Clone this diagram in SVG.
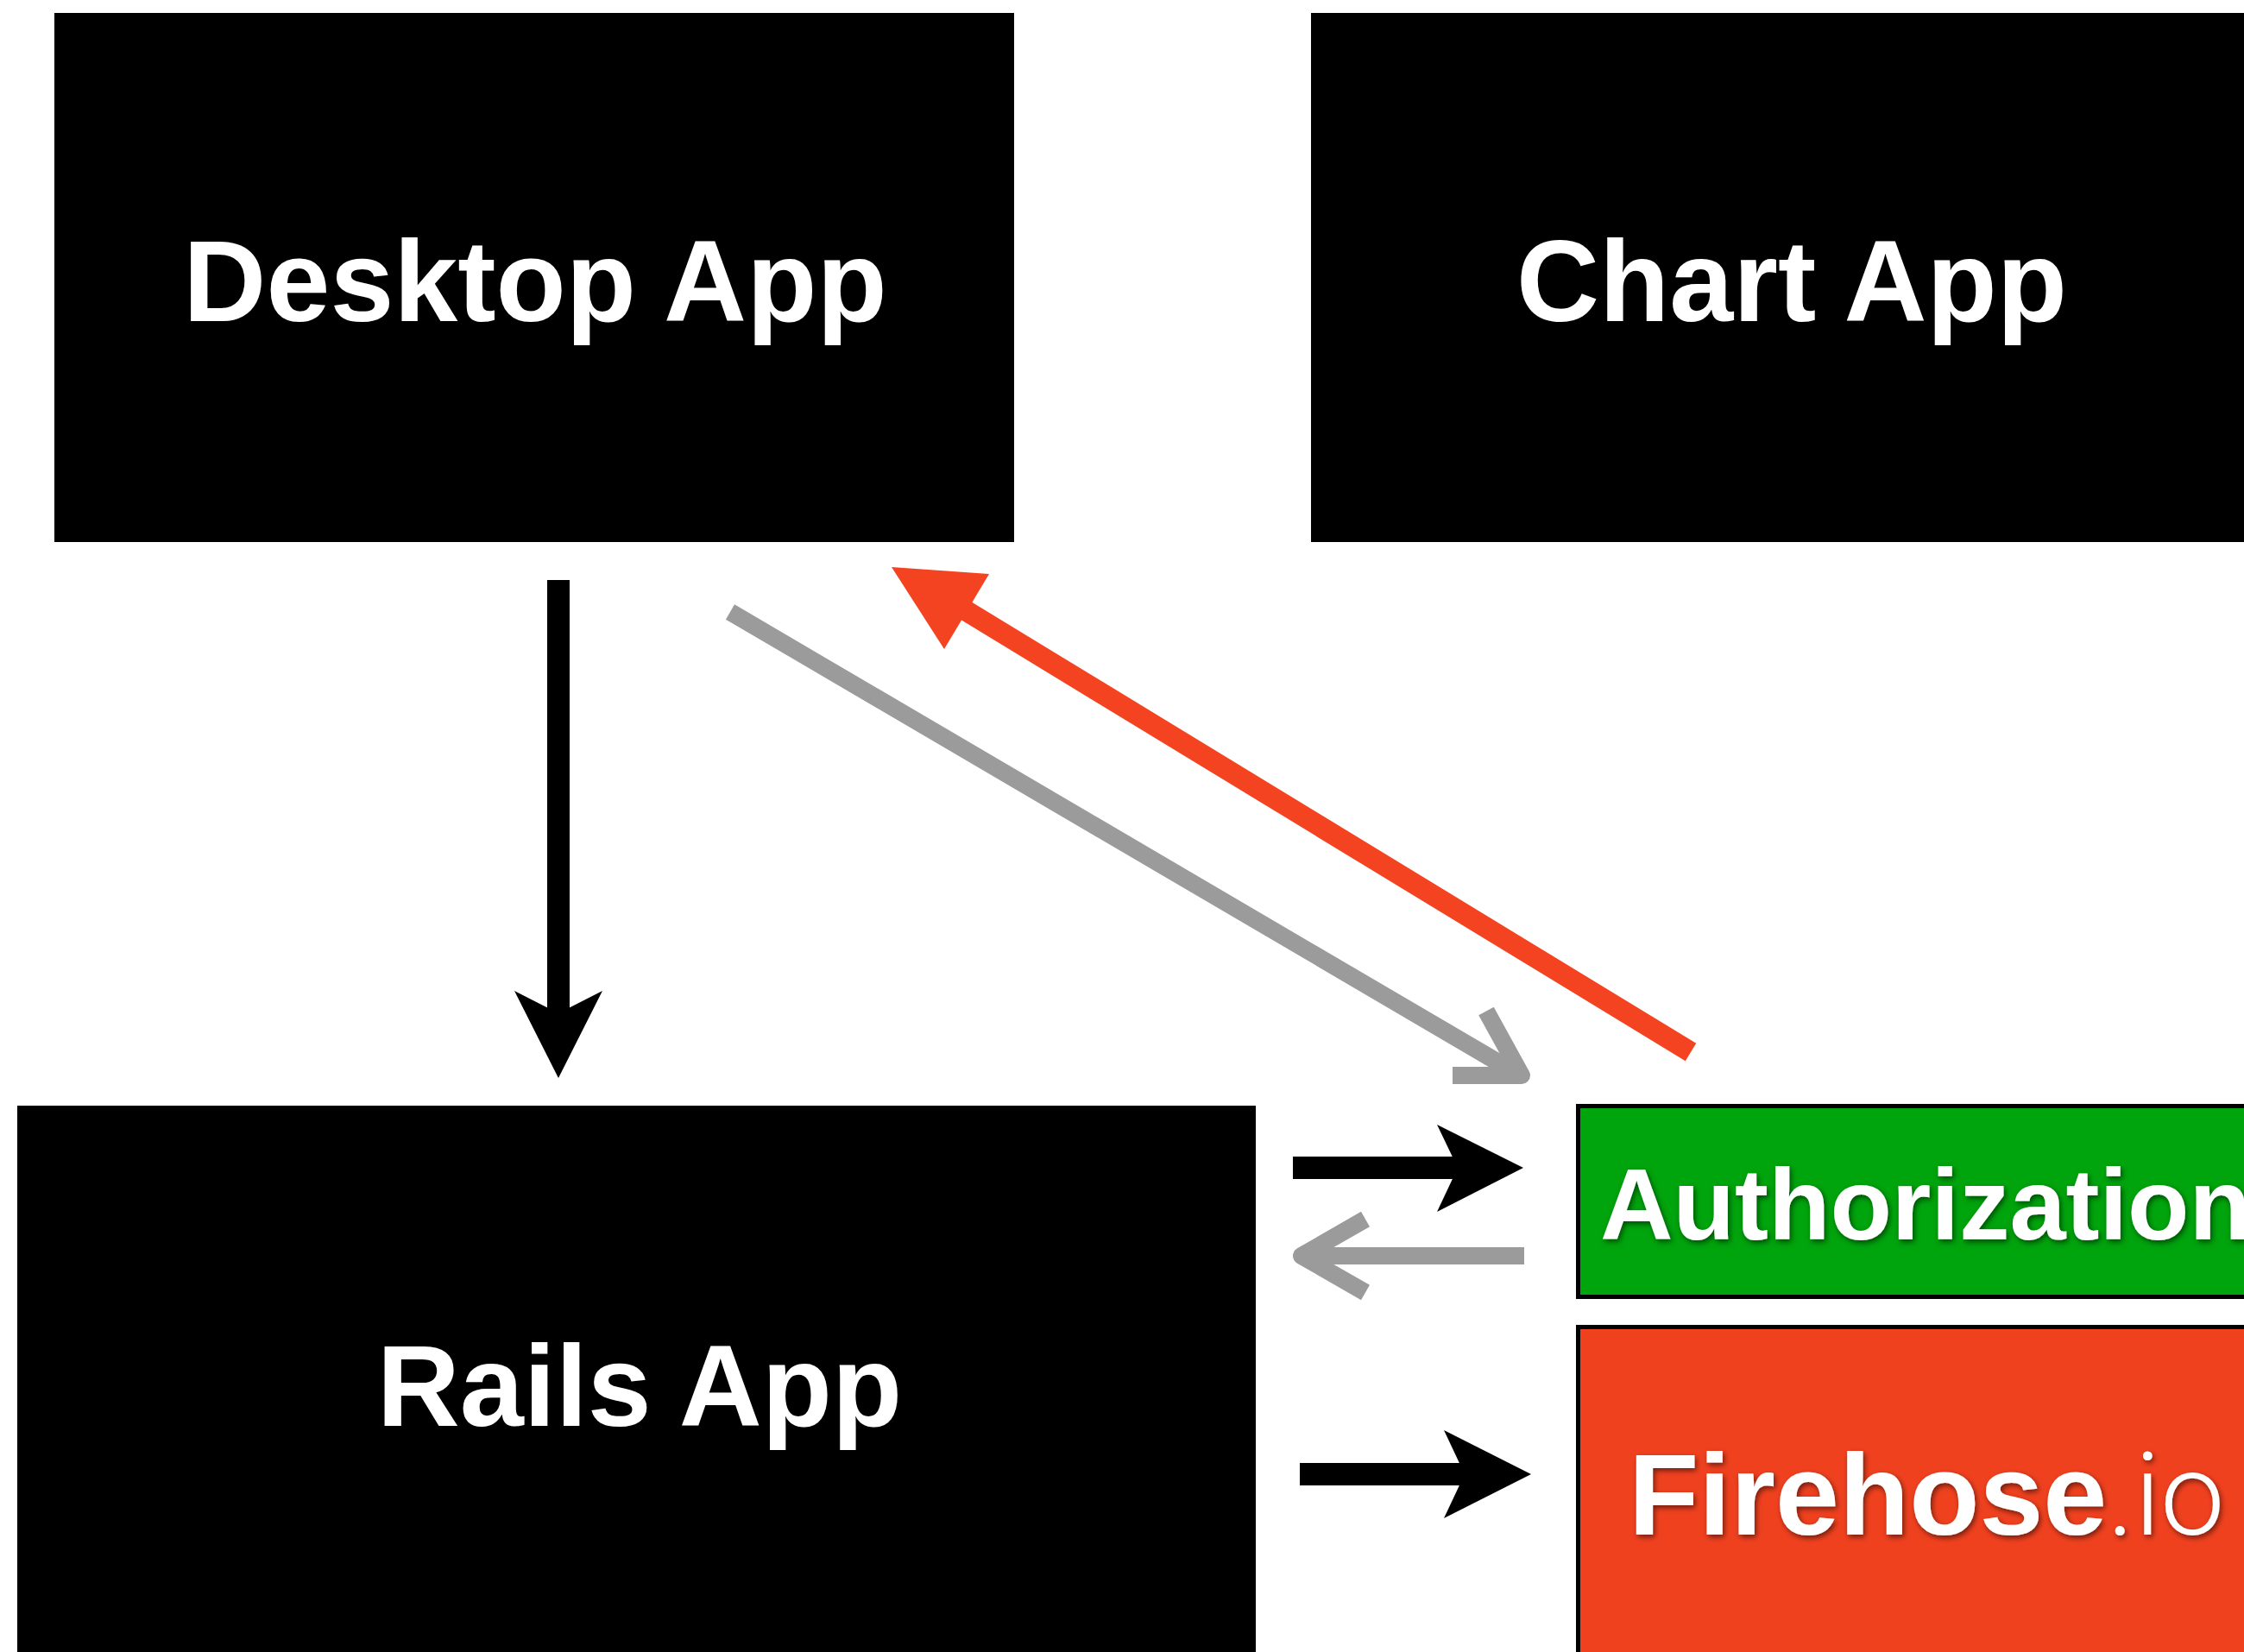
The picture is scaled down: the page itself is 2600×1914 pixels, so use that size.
<svg xmlns="http://www.w3.org/2000/svg" width="2600" height="1914" viewBox="0 0 2600 1914">
<style>
.box{fill:#000}
.lbl{font-family:"Liberation Sans",Arial,Helvetica,sans-serif;font-weight:bold;font-size:133px;fill:#fff}
.blk{stroke:#000;stroke-width:26;fill:none}
.gry{stroke:#9b9b9b;stroke-width:20;fill:none;stroke-linejoin:round}
</style>
<defs>
<filter id="sh" x="-10%" y="-30%" width="120%" height="160%">
<feDropShadow dx="2" dy="3" stdDeviation="3" flood-color="#000" flood-opacity="0.55"/>
</filter>
</defs>
<rect width="2600" height="1914" fill="#fff"/>
<g id="desktop-app">
<rect class="box" x="63" y="15" width="1112" height="613"/>
<text class="lbl" x="620" y="372" text-anchor="middle">Desktop App</text>
</g>
<g id="chart-app">
<rect class="box" x="1519" y="15" width="1114" height="613"/>
<text class="lbl" x="2076" y="372" text-anchor="middle">Chart App</text>
</g>
<g id="rails-app">
<rect class="box" x="20" y="1281" width="1435" height="660"/>
<text class="lbl" x="741" y="1652" text-anchor="middle">Rails App</text>
</g>
<g id="authorization">
<rect x="1828.5" y="1281.5" width="820" height="221" fill="#00a40c" stroke="#000" stroke-width="5"/>
<text class="lbl" x="1854" y="1436" style="font-size:117px" filter="url(#sh)">Authorization</text>
</g>
<g id="firehose">
<rect x="1828.5" y="1537.5" width="820" height="420" fill="#f0411f" stroke="#000" stroke-width="5"/>
<text class="lbl" x="1887" y="1778" filter="url(#sh)">Firehose<tspan style="font-weight:300;font-family:Roboto,'Liberation Sans',sans-serif">.io</tspan></text>
</g>
<g id="connectors">
<line class="blk" x1="647" y1="672" x2="647" y2="1180"/>
<polygon points="596,1148 647,1174 698,1148 647,1249" fill="#000"/>
<line class="gry" x1="846" y1="709" x2="1760" y2="1245"/>
<path class="gry" d="M1683,1246 L1763,1246 L1722,1171.5"/>
<line x1="1959" y1="1219" x2="1115" y2="705" stroke="#f44320" stroke-width="24"/>
<polygon points="1033,657 1146,665 1094,752" fill="#f44320"/>
<line class="blk" x1="1498" y1="1353" x2="1692" y2="1353"/>
<polygon points="1665,1303 1689,1353 1665,1404 1765,1353" fill="#000"/>
<line class="gry" x1="1766" y1="1455" x2="1510" y2="1455"/>
<path class="gry" d="M1582,1412.5 L1508,1455 L1582,1497.5"/>
<line class="blk" x1="1506" y1="1708" x2="1700" y2="1708"/>
<polygon points="1673,1657 1697,1708 1673,1759 1774,1708" fill="#000"/>
</g>
</svg>
